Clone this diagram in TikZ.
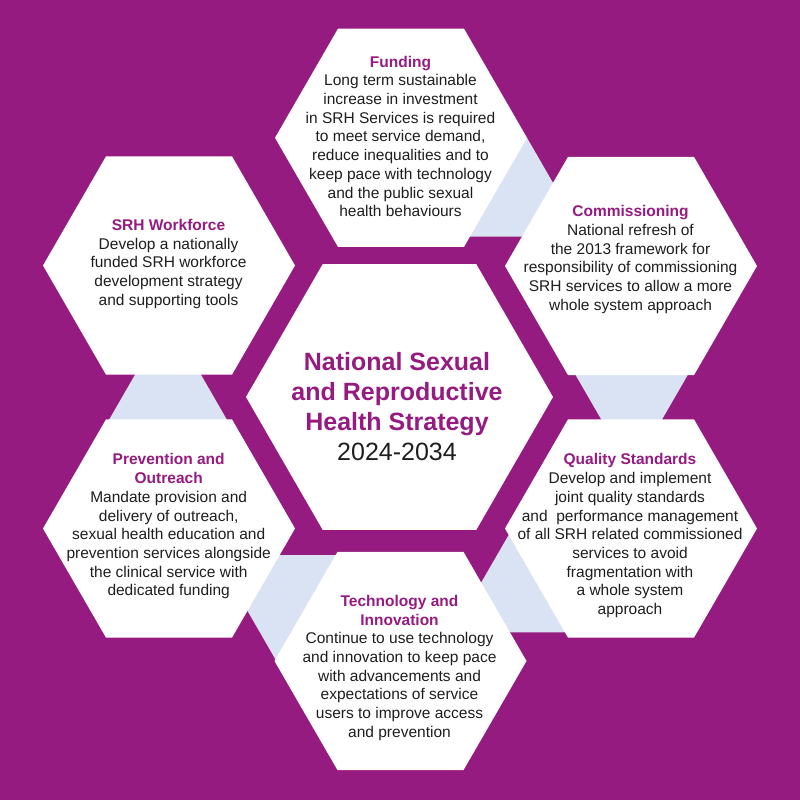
\documentclass[tikz,border=0pt]{standalone}
\usepackage{fontspec}
\setmainfont{Liberation Sans}
\definecolor{bgpurple}{RGB}{149,27,128}
\definecolor{lightblue}{RGB}{218,227,243}
\definecolor{bodytext}{RGB}{30,30,30}
\newcommand{\hd}[1]{{\bfseries\color{bgpurple}#1}}
\newcommand{\hexagonat}[3]{({#1+#3},{#2}) -- ({#1+0.5*#3},{#2+0.8660254*#3}) -- ({#1-0.5*#3},{#2+0.8660254*#3}) -- ({#1-#3},{#2}) -- ({#1-0.5*#3},{#2-0.8660254*#3}) -- ({#1+0.5*#3},{#2-0.8660254*#3}) -- cycle}
\tikzset{
  hexfill/.style={fill=white, draw=none},
  bluefill/.style={fill=lightblue, draw=none},
  bodynode/.style={align=center, anchor=north, inner sep=0pt, text=bodytext,
    font=\fontsize{15.5}{18.7}\selectfont},
  titlenode/.style={align=center, anchor=north, inner sep=0pt, text=bodytext,
    font=\fontsize{25}{30}\selectfont},
}
\begin{document}
\begin{tikzpicture}[x=1pt,y=-1pt]
\fill[bgpurple] (0,0) rectangle (800,800);
\path[use as bounding box] (0,0) rectangle (800,800);

% hexagon centres
\coordinate (cM) at (399.5,397);
\coordinate (cF) at (401,137.8);
\coordinate (cC) at (631,266);
\coordinate (cQ) at (631,528.5);
\coordinate (cT) at (400.5,661);
\coordinate (cP) at (169,528.5);
\coordinate (cS) at (169,265.5);

% light blue links between neighbouring hexagons
\fill[bluefill] (527,137.8) -- (567,207.1) -- (566,236.5) -- (445,236.5) -- cycle;
\fill[bluefill] (566.9,360) -- (696.4,360) -- (654.8,432) -- (608.5,432) -- cycle;
\fill[bluefill] (520.2,515) -- (590,632.3) -- (490,632.3) -- (471.1,600) -- cycle;
\fill[bluefill] (260,555) -- (360,555) -- (330,661) -- (276.4,661) -- (229.7,580) -- cycle;
\fill[bluefill] (143.5,360) -- (192.5,360) -- (234,432) -- (102,432) -- cycle;

% hexagons
\fill[hexfill] \hexagonat{399.5}{397}{153.5};
\fill[hexfill] \hexagonat{401}{137.8}{126};
\fill[hexfill] \hexagonat{631}{266}{126};
\fill[hexfill] \hexagonat{631}{528.5}{126};
\fill[hexfill] \hexagonat{400.5}{661}{126};
\fill[hexfill] \hexagonat{169}{528.5}{126};
\fill[hexfill] \hexagonat{169}{265.5}{126};

% texts
\node[titlenode] (tM) at (397,351.8) {\hd{National Sexual}\\\hd{and Reproductive}\\\hd{Health Strategy}\\2024-2034};

\node[bodynode] (tF) at (400.5,55.7) {\hd{Funding}\\Long term sustainable\\increase in investment\\in SRH Services is required\\to meet service demand,\\reduce inequalities and to\\keep pace with technology\\and the public sexual\\health behaviours};

\node[bodynode] (tC) at (630.5,205.2) {\hd{Commissioning}\\National refresh of\\the 2013 framework for\\responsibility of commissioning\\SRH services to allow a more\\whole system approach};

\node[bodynode] (tS) at (168.5,219) {\hd{SRH Workforce}\\Develop a nationally\\funded SRH workforce\\development strategy\\and supporting tools};

\node[bodynode] (tP) at (168.7,453.5) {\hd{Prevention and}\\\hd{Outreach}\\Mandate provision and\\delivery of outreach,\\sexual health education and\\prevention services alongside\\the clinical service with\\dedicated funding};

\node[bodynode] (tQ) at (630,453.5) {\hd{Quality Standards}\\Develop and implement\\joint quality standards\\and\ \ performance management\\of all SRH related commissioned\\services to avoid\\fragmentation with\\a whole system\\approach};

\node[bodynode] (tT) at (399.5,595) {\hd{Technology and}\\\hd{Innovation}\\Continue to use technology\\and innovation to keep pace\\with advancements and\\expectations of service\\users to improve access\\and prevention};
\end{tikzpicture}
\end{document}
